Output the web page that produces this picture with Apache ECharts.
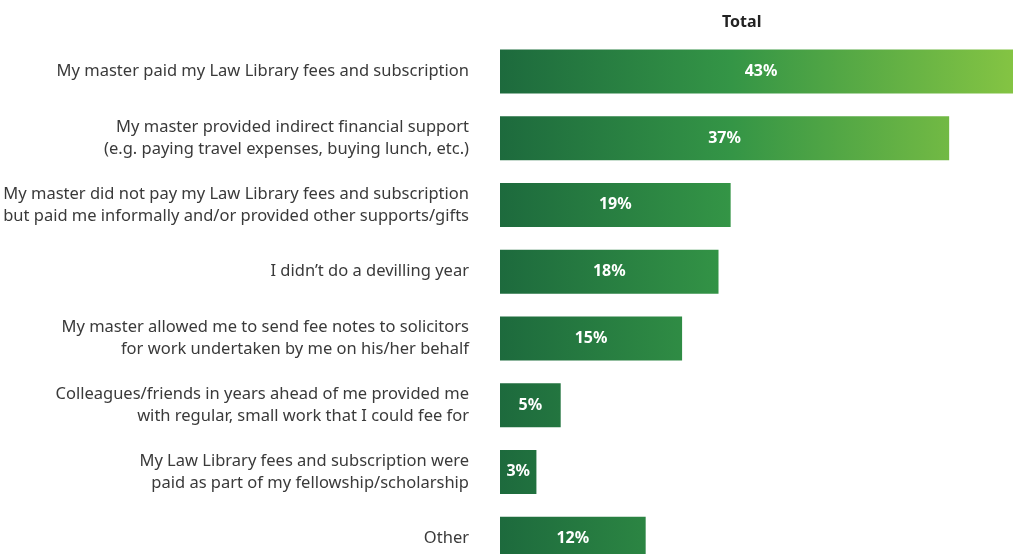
<!DOCTYPE html>
<html lang="en">

<head>
  <meta charset="UTF-8">
  <meta name="viewport" content="width=device-width, initial-scale=1.0">
  <title>devilling support</title>
  <script src="https://cdn.jsdelivr.net/npm/echarts@6/dist/echarts.min.js"></script>
  <style>
    html, body { margin: 0; padding: 0; background: #fff; }
    #main { width: 1013px; height: 554px; }
  </style>
</head>

<body>
  <div id="main"></div>

  <script>
    // categories, top to bottom
    var categories = [
      'My master paid my Law Library fees and subscription',
      'My master provided indirect financial support\n(e.g. paying travel expenses, buying lunch, etc.)',
      'My master did not pay my Law Library fees and subscription\nbut paid me informally and/or provided other supports/gifts',
      'I didn\u2019t do a devilling year',
      'My master allowed me to send fee notes to solicitors\nfor work undertaken by me on his/her behalf',
      'Colleagues/friends in years ahead of me provided me\nwith regular, small work that I could fee for',
      'My Law Library fees and subscription were\npaid as part of my fellowship/scholarship',
      'Other'
    ]
    var totals = [43, 37, 19, 18, 15, 5, 3, 12]

    var mCharts = echarts.init(document.getElementById('main'))

    var option = {
      animation: false,
      textStyle: { fontFamily: 'Noto Sans' },

      title: {
        text: 'Total',
        left: 717,
        top: 9,
        textStyle: { fontSize: 16, fontWeight: 'bold', color: '#222' }
      },

      // the top bar runs past the right edge and the last one past the bottom
      grid: {
        left: 500,
        right: -9,
        top: 38,
        bottom: -18,
        outerBoundsMode: 'none',
        containLabel: false
      },

      xAxis: {
        type: 'value',
        min: 0,
        max: 43,
        show: false
      },
      yAxis: {
        type: 'category',
        data: categories,
        inverse: true,
        axisLine: { show: false },
        axisTick: { show: false },
        axisLabel: {
          margin: 31,
          fontSize: 16.5,
          lineHeight: 22,
          padding: [5, 0, 0, 0],
          color: '#3a3a3a',
          align: 'right'
        }
      },
      series: [
        {
          name: 'Total',
          type: 'bar',
          data: totals,
          barWidth: 44,
          itemStyle: {
            // gradient runs across the whole plot, so short bars stay dark
            color: {
              type: 'linear',
              x: 500, y: 0, x2: 1013, y2: 0,
              global: true,
              colorStops: [
                { offset: 0, color: '#1d6a3d' },
                { offset: 0.45, color: '#349546' },
                { offset: 1, color: '#84c443' }
              ]
            }
          },
          label: {
            show: true,
            position: 'inside',
            formatter: '{c}%',
            color: '#fff',
            fontSize: 16,
            fontWeight: 'bold'
          }
        }
      ]
    }

    mCharts.setOption(option)
    window.onresize = mCharts.resize
  </script>
</body>

</html>
